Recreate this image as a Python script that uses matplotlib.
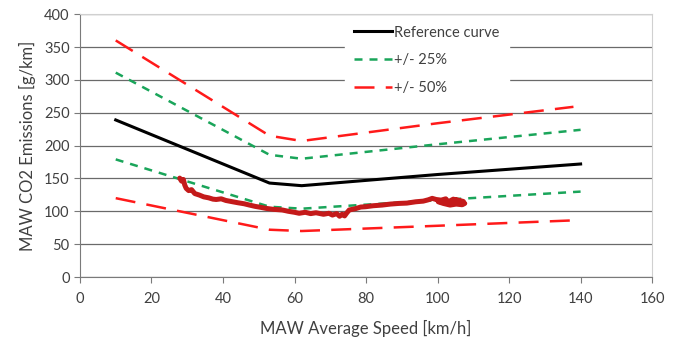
import numpy as np
import matplotlib
matplotlib.use("Agg")
import matplotlib.pyplot as plt

plt.rcParams['font.family'] = ['Lato', 'DejaVu Sans']

# curves (speed km/h, CO2 g/km)
ref_x = [10, 53, 62, 100, 140]
ref_y = [239, 143, 139, 156, 172]

up25_x = [10, 53, 62, 100, 140]
up25_y = [311, 186, 180, 202, 224]
lo25_x = [10, 53, 62, 100, 140]
lo25_y = [179, 107, 104, 117, 130]

up50_x = [10, 53, 62, 100, 138]
up50_y = [360, 215, 207, 234, 259]
lo50_x = [10, 53, 62, 100, 137]
lo50_y = [120, 72, 70, 78, 86]

# measured trip (moving average window)
maw_x = [27.9, 28.4, 28.9, 29.3, 29.7, 30.4, 31.2, 32.1, 33.4, 34.6, 36.0, 37.2,
         38.1, 39.5, 40.8, 42.7, 44.2, 45.9, 47.4, 49.0, 50.6, 52.0, 54.1, 56.6,
         58.3, 60.0, 61.3, 63.0, 64.5, 66.0, 68.1, 69.6, 70.6, 71.8, 72.6, 73.3,
         74.0, 74.6, 75.3, 77.0, 78.5, 79.9, 82.0, 84.5, 86.8, 89.2, 91.4, 93.9,
         96.0, 97.4, 98.5, 99.6, 101.0, 102.3, 103.0, 104.4, 105.8, 106.8, 107.6,
         106.9, 105.2, 103.5, 101.6, 100.2, 101.8, 103.7, 105.4, 107.2]
maw_y = [150.5, 146.0, 148.5, 140.0, 135.0, 131.5, 133.0, 127.0, 124.7, 122.0, 120.5, 118.5,
         118.0, 119.0, 116.5, 114.5, 113.0, 111.5, 109.5, 107.5, 106.0, 104.5, 103.0, 102.0,
         100.0, 98.5, 97.0, 98.5, 96.5, 97.8, 95.5, 97.0, 94.3, 96.5, 92.5, 95.5,
         93.0, 97.5, 102.0, 104.0, 106.5, 107.0, 108.5, 109.5, 111.0, 112.0, 112.5, 114.5,
         115.5, 117.5, 119.7, 118.0, 117.0, 119.0, 114.5, 118.5, 116.0, 114.5, 112.0,
         110.0, 111.0, 109.5, 112.0, 114.5, 116.5, 113.5, 117.5, 115.0]

xticks = [0, 20, 40, 60, 80, 100, 120, 140, 160]
yticks = [0, 50, 100, 150, 200, 250, 300, 350, 400]

fig = plt.figure(figsize=(6.8, 3.45), dpi=100)
ax = fig.add_axes([0.1176, 0.197, 0.8414, 0.762])

ax.set_xlim(0, 160)
ax.set_ylim(0, 400)
ax.set_xticks(xticks)
ax.set_yticks(yticks)
ax.yaxis.grid(True, color='#6a6a6a', linewidth=0.9)
ax.set_axisbelow(True)

green = '#1aa55a'
red = '#ff1a1a'

ax.plot(ref_x, ref_y, color='black', linewidth=2.2, label='Reference curve', zorder=3)
ax.plot(up25_x, up25_y, color=green, linewidth=1.8, dashes=(3.2, 2.8), label='+/- 25%', zorder=3)
ax.plot(lo25_x, lo25_y, color=green, linewidth=1.8, dashes=(3.2, 2.8), zorder=3)
ax.plot(up50_x, up50_y, color=red, linewidth=1.8, dashes=(8, 4.5), label='+/- 50%', zorder=3)
ax.plot(lo50_x, lo50_y, color=red, linewidth=1.8, dashes=(8, 4.5), zorder=3)
ax.plot(maw_x, maw_y, color='#c41a1a', linewidth=3.6, solid_joinstyle='round',
        solid_capstyle='round', zorder=4)

for side in ['top', 'right']:
    ax.spines[side].set_color('#d0d0d0')
for side in ['left', 'bottom']:
    ax.spines[side].set_color('#7a7a7a')
ax.tick_params(axis='both', direction='out', colors='#7a7a7a', labelcolor='#404040',
               labelsize=10.5, length=4)
ax.tick_params(axis='x', pad=7)

ax.set_xlabel('MAW Average Speed [km/h]', fontsize=12, color='#404040', labelpad=10)
ax.set_ylabel('MAW CO2 Emissions [g/km]', fontsize=12, color='#404040', labelpad=6)

leg = ax.legend(loc='upper left', bbox_to_anchor=(0.463, 0.99), frameon=True, framealpha=1,
                edgecolor='white', facecolor='white', fontsize=10.5, handlelength=2.6,
                handletextpad=0.2, labelspacing=0.95, borderpad=0.6, borderaxespad=0.0)
leg.set_zorder(5)
for t in leg.get_texts():
    t.set_color('#404040')

fig.savefig('out.png', dpi=100)
